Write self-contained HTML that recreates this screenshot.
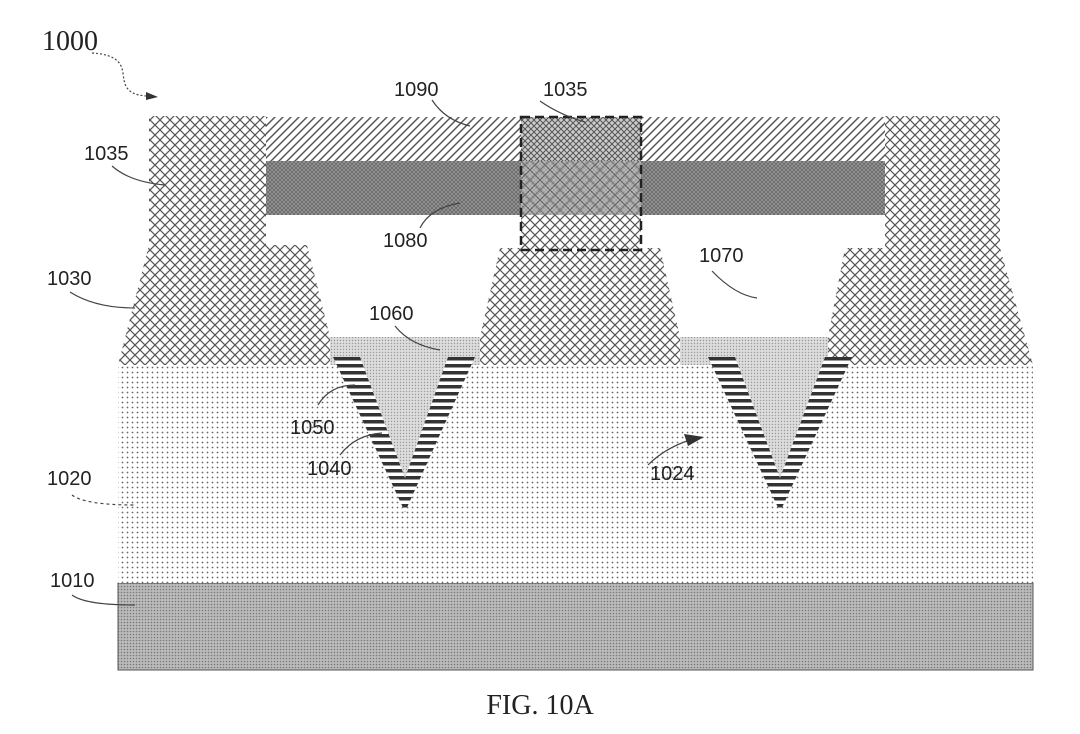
<!DOCTYPE html>
<html><head><meta charset="utf-8"><style>
html,body{margin:0;padding:0;background:#fff;}
svg{display:block;}
text{font-family:"Liberation Sans",sans-serif;font-size:20px;fill:#222;}
.serif{font-family:"Liberation Serif",serif;font-size:28px;}
.ld{fill:none;stroke:#444;stroke-width:1.2;}
</style></head><body>
<svg width="1080" height="734" viewBox="0 0 1080 734" xmlns="http://www.w3.org/2000/svg">
<defs>
<pattern id="xh" width="10" height="10" patternUnits="userSpaceOnUse">
<rect width="10" height="10" fill="#fff"/>
<path d="M0 0L10 10M10 0L0 10" stroke="#555" stroke-width="1.2"/>
</pattern>
<pattern id="xh2" width="6" height="6" patternUnits="userSpaceOnUse">
<rect width="6" height="6" fill="#ccc"/>
<path d="M0 0L6 6M6 0L0 6" stroke="#555" stroke-width="1"/>
</pattern>
<pattern id="diag" width="8" height="8" patternUnits="userSpaceOnUse">
<rect width="8" height="8" fill="#fff"/>
<path d="M0 8L8 0M-2 2L2 -2M6 10L10 6" stroke="#555" stroke-width="1.5"/>
</pattern>
<pattern id="dk" width="4" height="4" patternUnits="userSpaceOnUse">
<rect width="4" height="4" fill="#999"/>
<path d="M0 0L4 4M4 0L0 4" stroke="#666" stroke-width="0.8"/>
</pattern>
<pattern id="dots" width="5" height="5" patternUnits="userSpaceOnUse">
<rect width="5" height="5" fill="#fff"/>
<circle cx="2.5" cy="2.5" r="0.9" fill="#666"/>
</pattern>
<pattern id="dd" width="3" height="3" patternUnits="userSpaceOnUse">
<rect width="3" height="3" fill="#bbb"/>
<circle cx="1.5" cy="1.5" r="0.8" fill="#777"/>
</pattern>
<pattern id="fill60" width="3" height="3" patternUnits="userSpaceOnUse">
<rect width="3" height="3" fill="#ddd"/>
<circle cx="1.5" cy="1.5" r="0.7" fill="#999"/>
</pattern>
<pattern id="hstripe" width="6" height="7" patternUnits="userSpaceOnUse">
<rect width="6" height="7" fill="#fff"/>
<rect y="0" width="6" height="3.5" fill="#333"/>
</pattern>
</defs>

<rect x="118" y="583" width="915" height="87" fill="url(#dd)" stroke="#555" stroke-width="1"/>
<rect x="118" y="365" width="915" height="218" fill="url(#dots)"/>

<path d="M149 245 L307 245 L330 337 L480 337 L500 248 L660 248 L680 337 L828 337 L845 248 L1000 248 L1033 365 L118 365 Z" fill="url(#xh)"/>
<rect x="330" y="337" width="150" height="28" fill="url(#fill60)"/>
<rect x="680" y="337" width="148" height="28" fill="url(#fill60)"/>

<path d="M333 357 L475 357 L405 512 Z" fill="url(#hstripe)"/>
<path d="M360 357 L448 357 L405 478 Z" fill="url(#fill60)"/>
<path d="M708 357 L852 357 L780 512 Z" fill="url(#hstripe)"/>
<path d="M735 357 L825 357 L780 478 Z" fill="url(#fill60)"/>

<rect x="149" y="116" width="117" height="129" fill="url(#xh)"/>
<rect x="885" y="116" width="115" height="132" fill="url(#xh)"/>
<rect x="266" y="117" width="619" height="44" fill="url(#diag)"/>
<rect x="266" y="161" width="619" height="54" fill="url(#dk)"/>
<rect x="521" y="117" width="120" height="44" fill="url(#xh2)"/>
<rect x="521" y="161" width="120" height="54" fill="url(#dk)"/>
<rect x="521" y="161" width="120" height="54" fill="url(#xh)" opacity="0.35"/>
<rect x="521" y="215" width="120" height="35" fill="url(#xh)"/>
<rect x="521" y="117" width="120" height="133" fill="none" stroke="#222" stroke-width="2.5" stroke-dasharray="9 5"/>

<text class="serif" x="42" y="50">1000</text>
<path d="M92 53 C125 55 122 70 124 80 C126 92 135 96 150 96" class="ld" stroke-dasharray="2 2"/>
<path d="M146 92 L158 97 L146 100 Z" fill="#333"/>

<text x="394" y="96">1090</text>
<path d="M432 100 Q445 120 470 126" class="ld"/>
<text x="543" y="96">1035</text>
<path d="M540 101 Q560 115 585 122" class="ld"/>
<text x="84" y="160">1035</text>
<path d="M112 166 Q130 182 165 185" class="ld"/>
<text x="383" y="247">1080</text>
<path d="M420 228 Q430 208 460 203" class="ld"/>
<text x="47" y="285">1030</text>
<path d="M70 292 Q95 308 135 308" class="ld"/>
<text x="699" y="262">1070</text>
<path d="M712 271 Q735 295 757 298" class="ld"/>
<text x="369" y="320">1060</text>
<path d="M395 326 Q410 345 440 350" class="ld"/>
<text x="290" y="434">1050</text>
<path d="M318 405 Q330 385 355 385" class="ld" stroke-width="2"/>
<text x="307" y="475">1040</text>
<path d="M340 455 Q355 435 382 433" class="ld" stroke-width="2"/>
<text x="47" y="485">1020</text>
<path d="M72 495 Q85 505 135 505" class="ld" stroke-dasharray="3 3"/>
<text x="650" y="480">1024</text>
<path d="M648 465 Q665 448 690 440" class="ld"/>
<path d="M684 434 L704 437 L688 446 Z" fill="#333"/>
<text x="50" y="587">1010</text>
<path d="M72 595 Q85 605 135 605" class="ld"/>

<text class="serif" x="540" y="714" text-anchor="middle">FIG. 10A</text>
</svg>
</body></html>
